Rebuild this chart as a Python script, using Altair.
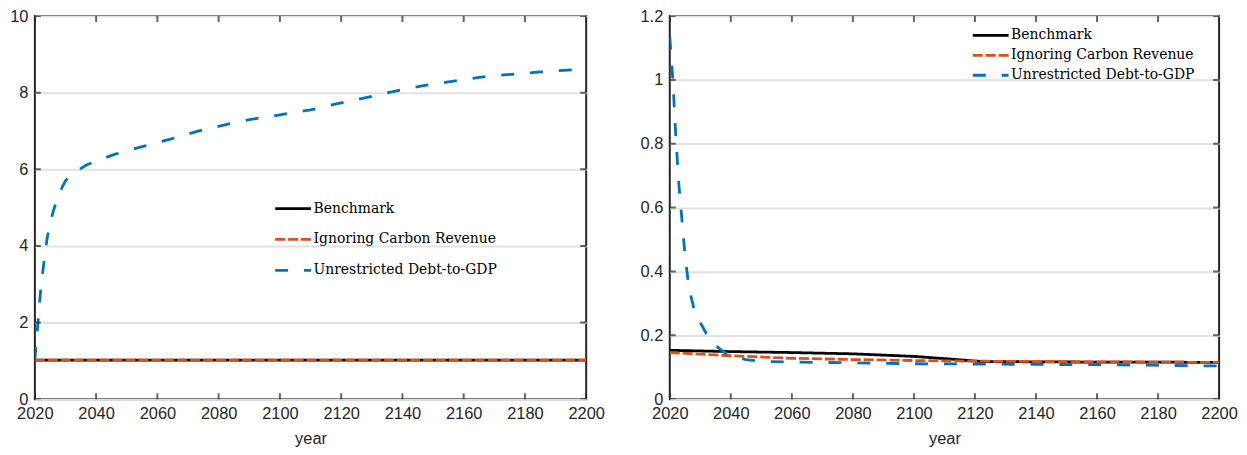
import altair as alt
import pandas as pd

SERIES = ["Benchmark", "Ignoring Carbon Revenue", "Unrestricted Debt-to-GDP"]
COLORS = ["#000000", "#D95319", "#0072BD"]
DASHES = [[1, 0], [10, 3], [13, 16]]

x_ticks = [2020, 2040, 2060, 2080, 2100, 2120, 2140, 2160, 2180, 2200]
left_y_ticks = [0, 2, 4, 6, 8, 10]
right_y_ticks = [0, 0.2, 0.4, 0.6, 0.8, 1, 1.2]

# ---- left panel data ----
L_bench_year = [2020, 2200]
L_bench_val = [1.02, 1.02]
L_ign_year = [2020, 2200]
L_ign_val = [1.02, 1.02]
L_unr_year = [2020, 2021, 2022, 2023, 2024, 2025, 2026, 2027, 2028, 2029, 2030,
              2032, 2035, 2037, 2040, 2046, 2055, 2063, 2073, 2082, 2091, 2100,
              2110, 2117, 2127, 2137, 2146, 2155, 2165, 2174, 2185, 2194, 2200]
L_unr_val = [1.02, 2.0, 2.95, 3.6, 4.2, 4.6, 4.9, 5.15, 5.35, 5.55, 5.7,
             5.88, 6.02, 6.12, 6.21, 6.39, 6.59, 6.76, 6.99, 7.16, 7.31, 7.42,
             7.55, 7.68, 7.85, 8.03, 8.17, 8.28, 8.40, 8.47, 8.54, 8.59, 8.60]

# ---- right panel data ----
R_bench_year = [2020, 2040, 2060, 2080, 2100, 2110, 2122, 2140, 2160, 2180, 2200]
R_bench_val = [0.153, 0.149, 0.146, 0.142, 0.134, 0.127, 0.118, 0.117, 0.116, 0.116, 0.115]
R_ign_year = [2020, 2040, 2060, 2080, 2100, 2120, 2140, 2160, 2180, 2200]
R_ign_val = [0.146, 0.136, 0.128, 0.124, 0.121, 0.119, 0.118, 0.117, 0.116, 0.115]
R_unr_year = [2020, 2021, 2022, 2023, 2024, 2025, 2026, 2027, 2028, 2029, 2030,
              2032, 2035, 2038, 2041, 2045, 2050, 2060, 2080, 2100, 2120, 2140,
              2160, 2180, 2200]
R_unr_val = [1.135, 1.00, 0.82, 0.67, 0.56, 0.45, 0.37, 0.32, 0.28, 0.26, 0.24,
             0.205, 0.168, 0.146, 0.133, 0.124, 0.118, 0.116, 0.114, 0.111, 0.110,
             0.109, 0.108, 0.106, 0.104]

AX = "#262626"
FONT = "Liberation Sans"
LEG_FONT = "DejaVu Serif"
FS = 16.5


def long_df(parts):
    rows = []
    for name, years, vals in parts:
        for yr, v in zip(years, vals):
            rows.append({"series": name, "year": yr, "value": v})
    return pd.DataFrame(rows)


def panel(df, y_ticks, y_fmt, lx, ly, row_pad, width):
    y_dom = [y_ticks[0], y_ticks[-1]]
    x_dom = [x_ticks[0], x_ticks[-1]]
    enc_x = alt.X(
        "year:Q",
        scale=alt.Scale(domain=x_dom, nice=False, zero=False),
        axis=alt.Axis(values=x_ticks, format="d", title="year", grid=False, ticks=False,
                      domain=False, labelFont=FONT, labelFontSize=FS, labelColor=AX,
                      labelPadding=6, labelFlush=False, labelOverlap=False,
                      titleFont=FONT, titleFontSize=FS, titleColor=AX,
                      titleFontWeight="normal", titlePadding=9),
    )
    enc_y = alt.Y(
        "value:Q",
        scale=alt.Scale(domain=y_dom, nice=False, zero=False),
        axis=alt.Axis(values=y_ticks, format=y_fmt, title=None, grid=True,
                      gridColor="#e2e2e2", gridWidth=2, ticks=False, domain=False,
                      labelFont=FONT, labelFontSize=FS, labelColor=AX, labelPadding=7,
                      labelOverlap=False, labelFlush=False),
    )
    leg = alt.Legend(title=None, orient="none", legendX=lx, legendY=ly,
                     symbolType="M-3,0H3", symbolSize=144, symbolStrokeWidth=2.8,
                     symbolFillColor="transparent",
                     labelFont=LEG_FONT, labelFontSize=14, labelColor="black",
                     rowPadding=row_pad, labelOffset=13, labelLimit=0)
    lines = alt.Chart(df).mark_line(strokeWidth=2.8, clip=True).encode(
        x=enc_x,
        y=enc_y,
        color=alt.Color("series:N", scale=alt.Scale(domain=SERIES, range=COLORS), legend=leg),
        strokeDash=alt.StrokeDash("series:N", scale=alt.Scale(domain=SERIES, range=DASHES), legend=leg),
    )
    n = len(x_ticks)
    xt = pd.DataFrame({"year": x_ticks * 2, "value": [y_dom[0]] * n + [y_dom[1]] * n})
    xtick = alt.Chart(xt).mark_tick(orient="vertical", size=12, thickness=2, color=AX, clip=True).encode(
        x="year:Q", y="value:Q")
    m = len(y_ticks)
    yt = pd.DataFrame({"year": [x_dom[0]] * m + [x_dom[1]] * m, "value": y_ticks * 2})
    ytick = alt.Chart(yt).mark_tick(orient="horizontal", size=12, thickness=2, color=AX, clip=True).encode(
        x="year:Q", y="value:Q")
    return alt.layer(lines, xtick, ytick).properties(width=width, height=385)


left_df = long_df([(SERIES[0], L_bench_year, L_bench_val),
                   (SERIES[1], L_ign_year, L_ign_val),
                   (SERIES[2], L_unr_year, L_unr_val)])
right_df = long_df([(SERIES[0], R_bench_year, R_bench_val),
                    (SERIES[1], R_ign_year, R_ign_val),
                    (SERIES[2], R_unr_year, R_unr_val)])

left = panel(left_df, left_y_ticks, "d", 252, 186, 16, 554)
right = panel(right_df, right_y_ticks, "~g", 315, 12, 5, 552)

chart = alt.hconcat(left, right, spacing=33).resolve_scale(
    color="independent", strokeDash="independent"
).configure_view(stroke=AX, strokeWidth=2).properties(
    padding={"left": 0, "top": -2, "right": 0, "bottom": 0}
)

chart.save("out.html", embed_options={"renderer": "svg", "actions": False})
